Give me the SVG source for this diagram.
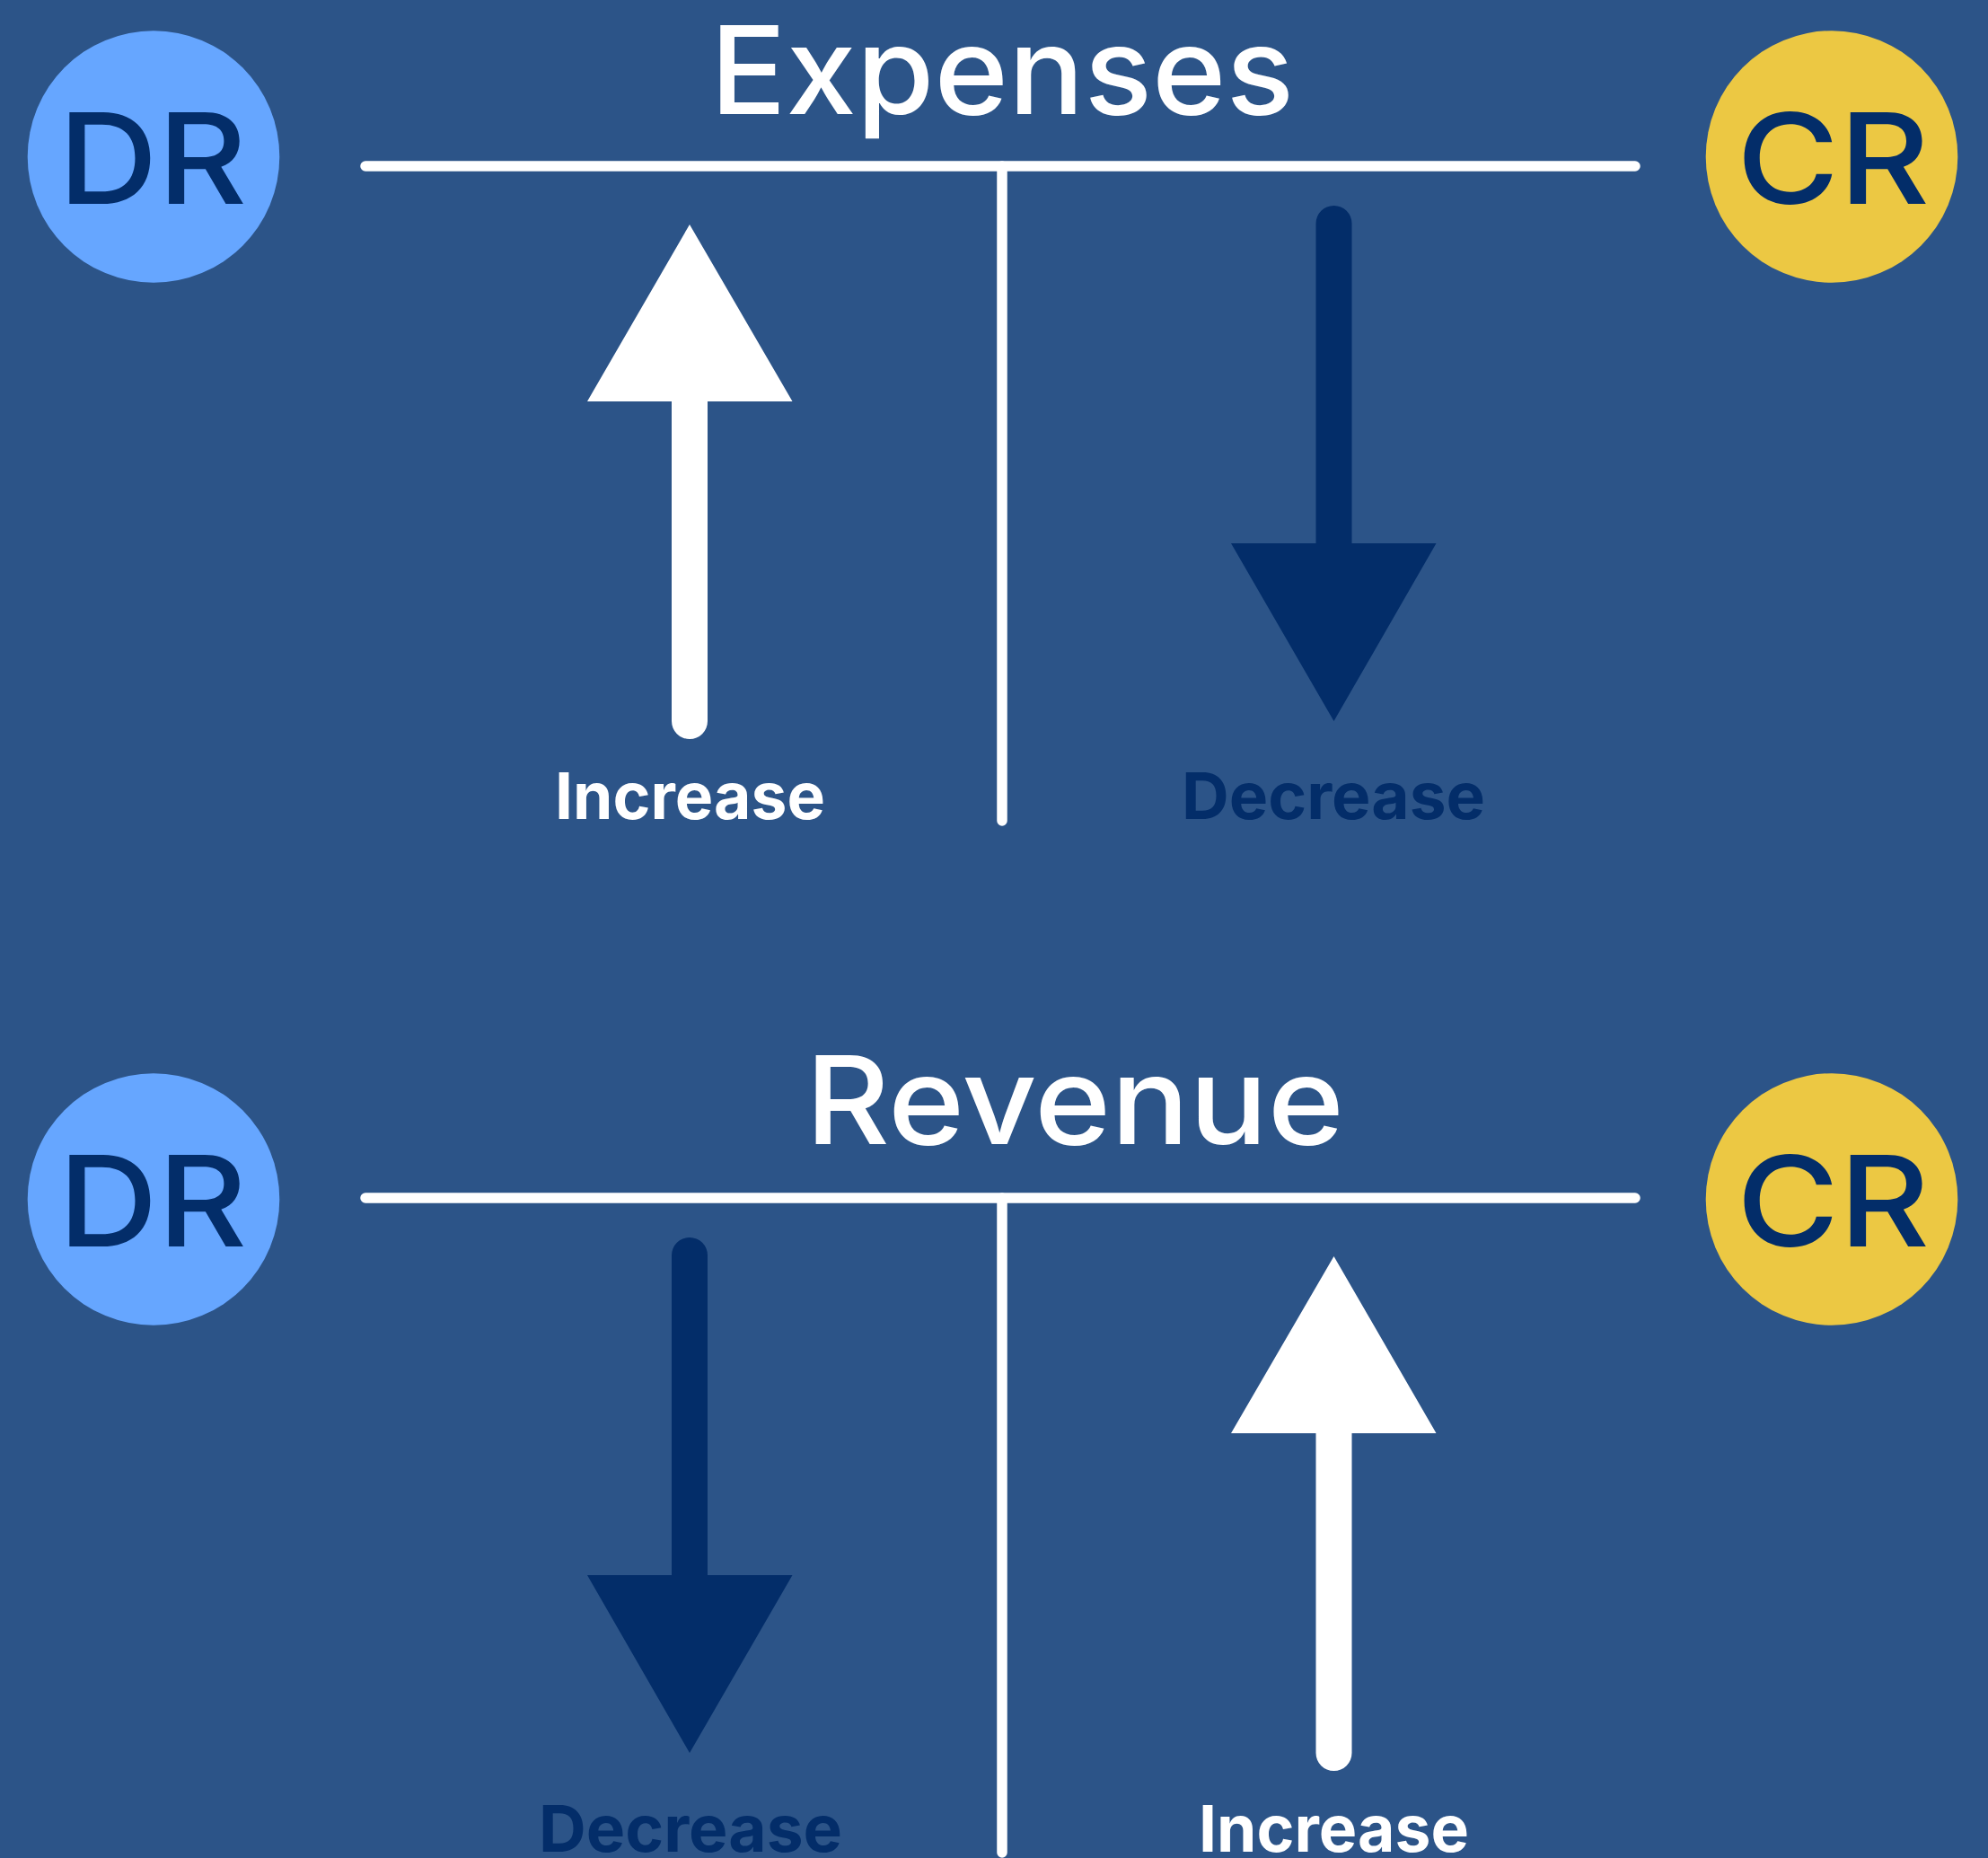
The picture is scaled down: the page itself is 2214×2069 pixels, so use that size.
<svg xmlns="http://www.w3.org/2000/svg" width="2214" height="2069" viewBox="0 0 2214 2069">
<style>
text{font-family:"Inter","Noto Sans","Liberation Sans",sans-serif}
.title{font-size:136px;font-weight:550;fill:#fff}
.badge{font-size:140px;font-weight:500;fill:#032d69}
.lab{font-size:72px;font-weight:700}
.w{fill:#fff}.n{fill:#032d69}
.rule{stroke:#fff;stroke-width:11.5;stroke-linecap:round;fill:none}
.dr{fill:#66a6ff}.cr{fill:#ecc843}
</style>
<rect id="background" width="2214" height="2069" fill="#2c5488"/>
<g id="connectors">
<line class="rule" x1="407" y1="185" x2="1821" y2="185"/>
<line class="rule" x1="1116" y1="185" x2="1116" y2="914"/>
<line class="rule" x1="407" y1="1334" x2="1821" y2="1334"/>
<line class="rule" x1="1116" y1="1334" x2="1116" y2="2063"/>
</g>
<g id="expenses-title"><text class="title" x="791" y="127" textLength="650" lengthAdjust="spacingAndGlyphs">Expenses</text></g>
<g id="revenue-title"><text class="title" x="897" y="1274" textLength="600" lengthAdjust="spacingAndGlyphs">Revenue</text></g>
<g id="dr-top"><circle class="dr" cx="171" cy="174.5" r="140.3"/><text class="badge" x="65" y="227" textLength="210" lengthAdjust="spacingAndGlyphs">DR</text></g>
<g id="cr-top"><circle class="cr" cx="2040" cy="174.5" r="140.3"/><text class="badge" x="1934" y="227" textLength="215" lengthAdjust="spacingAndGlyphs">CR</text></g>
<g id="dr-bottom"><circle class="dr" cx="171" cy="1335.5" r="140.3"/><text class="badge" x="65" y="1388" textLength="210" lengthAdjust="spacingAndGlyphs">DR</text></g>
<g id="cr-bottom"><circle class="cr" cx="2040" cy="1335.5" r="140.3"/><text class="badge" x="1934" y="1388" textLength="215" lengthAdjust="spacingAndGlyphs">CR</text></g>
<g id="expenses-increase"><path class="w" d="M768 250L882.5 447H788V803A20 20 0 0 1 748 803V447H654Z"/><text class="lab w" x="618" y="912" textLength="301" lengthAdjust="spacingAndGlyphs">Increase</text></g>
<g id="expenses-decrease"><path class="n" d="M1485.5 803L1371 605H1465.5V249A20 20 0 0 1 1505.5 249V605H1599.5Z"/><text class="lab n" x="1316" y="912" textLength="338" lengthAdjust="spacingAndGlyphs">Decrease</text></g>
<g id="revenue-decrease"><path class="n" d="M768 1952L654 1754H748V1398A20 20 0 0 1 788 1398V1754H882.5Z"/><text class="lab n" x="600" y="2062" textLength="338" lengthAdjust="spacingAndGlyphs">Decrease</text></g>
<g id="revenue-increase"><path class="w" d="M1485.5 1399L1599.5 1596H1505.5V1952A20 20 0 0 1 1465.5 1952V1596H1371Z"/><text class="lab w" x="1335" y="2062" textLength="301" lengthAdjust="spacingAndGlyphs">Increase</text></g>
</svg>
